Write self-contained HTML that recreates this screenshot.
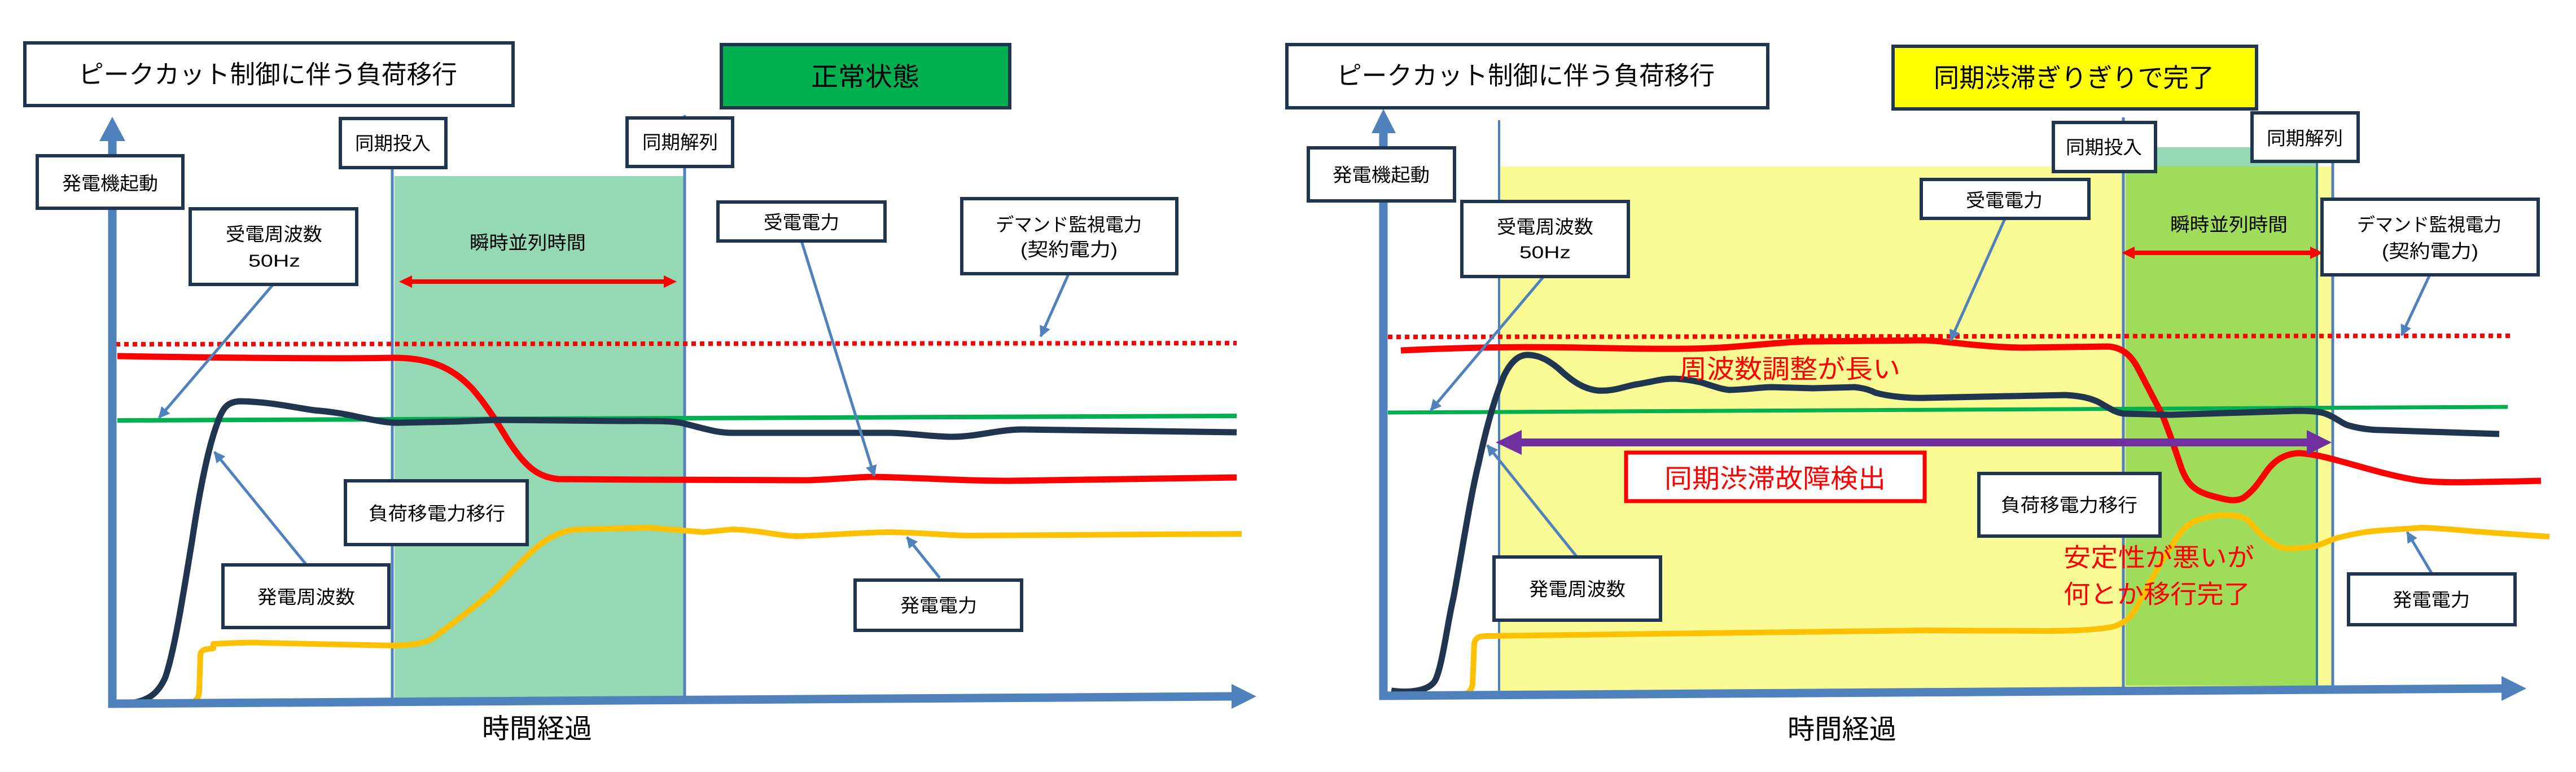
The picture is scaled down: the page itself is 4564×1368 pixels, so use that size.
<!DOCTYPE html>
<html><head><meta charset="utf-8">
<style>
html,body{margin:0;padding:0;background:#fff;}
body{width:4564px;height:1368px;overflow:hidden;}
svg{display:block;}
text{font-family:"Liberation Sans","Noto Sans CJK JP",sans-serif;dominant-baseline:central;fill:#000;}
</style></head>
<body>
<svg width="4564" height="1368" viewBox="0 0 4564 1368" xmlns="http://www.w3.org/2000/svg">
<defs>
<marker id="ah" viewBox="0 0 10 10" refX="9" refY="5" markerWidth="24" markerHeight="20" markerUnits="userSpaceOnUse" orient="auto">
<path d="M0,0 L10,5 L0,10 z" fill="#4f81bd"/>
</marker>
</defs>
<rect width="4564" height="1368" fill="#fff"/>

<!-- ============ LEFT PANEL ============ -->
<!-- green region -->
<rect x="699" y="312" width="512" height="928" fill="#95d8b4"/>
<!-- vertical lines -->
<line x1="695" y1="297" x2="695" y2="1240" stroke="#4f81bd" stroke-width="5"/>
<line x1="1213" y1="204" x2="1213" y2="1240" stroke="#4f81bd" stroke-width="5"/>
<!-- dotted contract line -->
<line x1="205" y1="610" x2="2191" y2="608" stroke="#ff0000" stroke-width="8" stroke-dasharray="8 7"/>
<!-- red double arrow -->
<line x1="726" y1="499" x2="1180" y2="499" stroke="#ff0000" stroke-width="8"/>
<polygon points="707,499 730,488 730,510" fill="#ff0000"/>
<polygon points="1199,499 1176,488 1176,510" fill="#ff0000"/>
<!-- green 50Hz line -->
<line x1="208" y1="745" x2="2191" y2="737" stroke="#00b050" stroke-width="8"/>
<!-- yellow gen power -->
<path d="M224,1247 L323,1247 C345,1247 352,1240 353,1225 L355,1160 C356,1152 362,1150 378,1149 L378,1141 C420,1139 450,1138 462,1139 L697,1144 C730,1143 755,1140 770,1129 C800,1105 850,1070 880,1041 C920,1000 950,965 975,953 C995,942 1010,938 1030,938 L1150,935 L1247,943 L1298,938 C1350,940 1380,950 1415,950 C1480,948 1530,943 1577,943 C1640,944 1680,949 1716,949 L2200,946" fill="none" stroke="#ffc000" stroke-width="10" stroke-linejoin="round"/>
<!-- red received power -->
<path d="M208,631 C400,634 600,636 697,634 C760,634 800,650 836,688 C860,715 880,747 900,780 C930,825 950,845 990,849 L1150,850 L1430,851 C1490,849 1520,845 1547,845 C1650,847 1700,852 1789,852 L2191,846" fill="none" stroke="#ff0000" stroke-width="11" stroke-linejoin="round"/>
<!-- navy gen frequency -->
<path d="M216,1247 C260,1246 280,1230 293,1200 C310,1150 325,1050 340,960 C355,860 370,790 385,750 C395,720 405,712 425,711 C480,712 520,722 557,727 C590,730 610,733 640,740 C670,746 690,750 711,749 L807,747 L880,744 L1100,746 C1150,746 1190,745 1210,750 C1250,760 1270,767 1298,767 L1577,767 C1620,768 1650,774 1687,774 C1730,774 1770,761 1811,761 L2191,766" fill="none" stroke="#1f3550" stroke-width="11" stroke-linejoin="round"/>
<!-- axes -->
<line x1="199" y1="1254" x2="199" y2="246" stroke="#4f81bd" stroke-width="15"/>
<polygon points="176,250 222,250 199,207" fill="#4f81bd"/>
<line x1="192" y1="1247" x2="2185" y2="1234" stroke="#4f81bd" stroke-width="15"/>
<polygon points="2182,1212 2182,1256 2226,1234" fill="#4f81bd"/>
<!-- connectors -->
<line x1="484" y1="504" x2="282" y2="740" stroke="#4f81bd" stroke-width="5" marker-end="url(#ah)"/>
<line x1="543" y1="1001" x2="380" y2="801" stroke="#4f81bd" stroke-width="5" marker-end="url(#ah)"/>
<line x1="1420" y1="427" x2="1549" y2="843" stroke="#4f81bd" stroke-width="5" marker-end="url(#ah)"/>
<line x1="1893" y1="486" x2="1844" y2="596" stroke="#4f81bd" stroke-width="5" marker-end="url(#ah)"/>
<line x1="1665" y1="1024" x2="1607" y2="952" stroke="#4f81bd" stroke-width="5" marker-end="url(#ah)"/>

<!-- boxes left -->
<g stroke="#1f3550" stroke-width="6" fill="#fff">
<rect x="44" y="76" width="865" height="111"/>
<rect x="1278" y="79" width="511" height="112" fill="#00b050"/>
<rect x="66" y="276" width="258" height="93"/>
<rect x="603" y="210" width="187" height="87"/>
<rect x="1111" y="209" width="187" height="86"/>
<rect x="337" y="370" width="295" height="134"/>
<rect x="1272" y="358" width="296" height="69"/>
<rect x="1704" y="352" width="381" height="133"/>
<rect x="612" y="852" width="322" height="113"/>
<rect x="395" y="1001" width="294" height="111"/>
<rect x="1515" y="1028" width="295" height="89"/>
</g>
<text x="139" y="132" font-size="45" textLength="671" lengthAdjust="spacingAndGlyphs">ピークカット制御に伴う負荷移行</text>
<text x="1437" y="136" font-size="46" textLength="192" lengthAdjust="spacingAndGlyphs">正常状態</text>
<text x="110" y="325" font-size="33" textLength="170" lengthAdjust="spacingAndGlyphs">発電機起動</text>
<text x="629" y="254" font-size="33" textLength="134" lengthAdjust="spacingAndGlyphs">同期投入</text>
<text x="1138" y="252" font-size="33" textLength="134" lengthAdjust="spacingAndGlyphs">同期解列</text>
<text x="400" y="415" font-size="33" textLength="171" lengthAdjust="spacingAndGlyphs">受電周波数</text>
<text x="440" y="462" font-size="31" textLength="92" lengthAdjust="spacingAndGlyphs">50Hz</text>
<text x="832" y="430" font-size="33" textLength="206" lengthAdjust="spacingAndGlyphs">瞬時並列時間</text>
<text x="1353" y="394" font-size="33" textLength="134" lengthAdjust="spacingAndGlyphs">受電電力</text>
<text x="1764" y="398" font-size="33" textLength="259" lengthAdjust="spacingAndGlyphs">デマンド監視電力</text>
<text x="1808" y="442" font-size="33" textLength="172" lengthAdjust="spacingAndGlyphs">(契約電力)</text>
<text x="653" y="910" font-size="33" textLength="242" lengthAdjust="spacingAndGlyphs">負荷移電力移行</text>
<text x="456" y="1058" font-size="33" textLength="173" lengthAdjust="spacingAndGlyphs">発電周波数</text>
<text x="1595" y="1073" font-size="33" textLength="136" lengthAdjust="spacingAndGlyphs">発電電力</text>
<text x="854" y="1292" font-size="48" textLength="195" lengthAdjust="spacingAndGlyphs">時間経過</text>

<!-- ============ RIGHT PANEL ============ -->
<rect x="2658" y="295" width="1473" height="929" fill="#fbfb96"/>
<rect x="3766" y="261" width="339" height="34" fill="#95d8b4"/>
<rect x="3766" y="295" width="339" height="920" fill="#a0dc5c"/>
<line x1="2656" y1="213" x2="2656" y2="1224" stroke="#4f81bd" stroke-width="4"/>
<line x1="3762" y1="208" x2="3762" y2="1222" stroke="#4f81bd" stroke-width="5"/>
<line x1="4105" y1="286" x2="4105" y2="1215" stroke="#31859c" stroke-width="4"/>
<line x1="4133" y1="286" x2="4133" y2="1222" stroke="#4f81bd" stroke-width="5"/>
<!-- dotted -->
<line x1="2459" y1="597" x2="4447" y2="595" stroke="#ff0000" stroke-width="8" stroke-dasharray="8 7"/>
<!-- red double arrow -->
<line x1="3778" y1="448" x2="4097" y2="448" stroke="#ff0000" stroke-width="8"/>
<polygon points="3759,448 3782,437 3782,459" fill="#ff0000"/>
<polygon points="4116,448 4093,437 4093,459" fill="#ff0000"/>
<!-- green line -->
<line x1="2459" y1="731" x2="4443" y2="721" stroke="#00b050" stroke-width="7"/>
<!-- yellow -->
<path d="M2472,1232 L2583,1232 C2600,1232 2607,1225 2609,1212 L2612,1140 C2614,1130 2620,1127 2635,1127 L3410,1117 L3623,1118 C3680,1118 3730,1115 3749,1109 C3770,1100 3778,1090 3786,1075 C3805,1040 3825,1000 3845,972 C3860,945 3875,928 3890,923 C3910,915 3930,912 3949,913 C3970,914 3980,918 3986,925 C3995,935 4005,948 4016,955 C4030,965 4040,972 4053,972 C4075,972 4090,970 4105,967 C4120,962 4130,956 4142,953 C4170,946 4190,942 4217,940 L4291,935 C4330,936 4360,940 4402,943 L4517,951" fill="none" stroke="#ffc000" stroke-width="10" stroke-linejoin="round"/>
<!-- red -->
<path d="M2482,621 C2600,615 2700,614 2800,616 C2900,618 3000,620 3064,615 C3120,611 3170,605 3212,605 L3410,603 C3440,604 3450,607 3459,607 C3500,612 3550,616 3586,616 L3734,614 C3760,615 3775,630 3786,649 C3805,685 3820,715 3831,735 C3845,770 3855,800 3865,830 C3875,855 3885,870 3920,879 C3945,886 3960,890 3975,882 C3995,868 4005,850 4016,835 C4030,815 4050,803 4075,803 C4100,805 4120,810 4142,816 C4180,826 4240,845 4291,852 C4330,856 4360,855 4502,852" fill="none" stroke="#ff0000" stroke-width="11" stroke-linejoin="round"/>
<!-- navy -->
<path d="M2465,1224 C2495,1228 2530,1225 2542,1207 C2555,1185 2565,1100 2575,1060 C2590,980 2605,880 2620,820 C2635,750 2650,700 2665,665 C2680,635 2695,628 2709,629 C2730,630 2745,640 2760,652 C2780,670 2800,688 2830,692 C2860,694 2880,684 2900,681 C2930,676 2945,671 2965,671 C2990,672 3000,675 3012,677 C3035,684 3050,690 3064,691 C3100,690 3120,686 3138,686 L3212,688 L3286,686 C3305,688 3315,692 3323,696 C3345,702 3380,706 3410,705 L3660,700 C3690,702 3705,706 3719,713 C3740,725 3750,732 3764,733 L3845,735 L4068,728 C4090,728 4110,729 4120,733 C4140,740 4150,752 4165,755 C4180,759 4200,762 4217,762 L4365,767 L4428,769" fill="none" stroke="#1f3550" stroke-width="11" stroke-linejoin="round"/>
<!-- purple double arrow -->
<line x1="2690" y1="784" x2="4092" y2="784" stroke="#7030a0" stroke-width="14"/>
<polygon points="2650,784 2696,762 2696,806" fill="#7030a0"/>
<polygon points="4131,784 4087,762 4087,806" fill="#7030a0"/>
<!-- axes -->
<line x1="2451" y1="1240" x2="2451" y2="232" stroke="#4f81bd" stroke-width="15"/>
<polygon points="2430,236 2473,236 2451,193" fill="#4f81bd"/>
<line x1="2444" y1="1233" x2="4435" y2="1220" stroke="#4f81bd" stroke-width="15"/>
<polygon points="4432,1198 4432,1242 4476,1220" fill="#4f81bd"/>
<!-- connectors -->
<line x1="2735" y1="490" x2="2535" y2="727" stroke="#4f81bd" stroke-width="5" marker-end="url(#ah)"/>
<line x1="2794" y1="987" x2="2635" y2="789" stroke="#4f81bd" stroke-width="5" marker-end="url(#ah)"/>
<line x1="3552" y1="388" x2="3456" y2="603" stroke="#4f81bd" stroke-width="5" marker-end="url(#ah)"/>
<line x1="4304" y1="489" x2="4255" y2="594" stroke="#4f81bd" stroke-width="5" marker-end="url(#ah)"/>
<line x1="4309" y1="1017" x2="4265" y2="943" stroke="#4f81bd" stroke-width="5" marker-end="url(#ah)"/>

<!-- boxes right -->
<g stroke="#1f3550" stroke-width="6" fill="#fff">
<rect x="2280" y="79" width="852" height="112"/>
<rect x="3354" y="82" width="644" height="111" fill="#ffff00"/>
<rect x="2318" y="262" width="259" height="94"/>
<rect x="2590" y="357" width="295" height="133"/>
<rect x="3638" y="217" width="181" height="87"/>
<rect x="3990" y="200" width="188" height="86"/>
<rect x="3404" y="318" width="297" height="69"/>
<rect x="4114" y="353" width="383" height="134"/>
<rect x="3506" y="839" width="321" height="111"/>
<rect x="2647" y="987" width="295" height="112"/>
<rect x="4161" y="1017" width="295" height="90"/>
</g>
<rect x="2881" y="802" width="529" height="86" fill="#fff" stroke="#ff0000" stroke-width="7"/>

<text x="2368" y="134" font-size="45" textLength="670" lengthAdjust="spacingAndGlyphs">ピークカット制御に伴う負荷移行</text>
<text x="3426" y="138" font-size="46" textLength="497" lengthAdjust="spacingAndGlyphs">同期渋滞ぎりぎりで完了</text>
<text x="2361" y="310" font-size="33" textLength="172" lengthAdjust="spacingAndGlyphs">発電機起動</text>
<text x="2652" y="402" font-size="33" textLength="171" lengthAdjust="spacingAndGlyphs">受電周波数</text>
<text x="2692" y="447" font-size="31" textLength="91" lengthAdjust="spacingAndGlyphs">50Hz</text>
<text x="3660" y="261" font-size="33" textLength="135" lengthAdjust="spacingAndGlyphs">同期投入</text>
<text x="4016" y="245" font-size="33" textLength="135" lengthAdjust="spacingAndGlyphs">同期解列</text>
<text x="3483" y="355" font-size="33" textLength="136" lengthAdjust="spacingAndGlyphs">受電電力</text>
<text x="3845" y="398" font-size="33" textLength="208" lengthAdjust="spacingAndGlyphs">瞬時並列時間</text>
<text x="4176" y="398" font-size="33" textLength="256" lengthAdjust="spacingAndGlyphs">デマンド監視電力</text>
<text x="4220" y="445" font-size="33" textLength="171" lengthAdjust="spacingAndGlyphs">(契約電力)</text>
<text x="2975" y="654" font-size="46" textLength="392" lengthAdjust="spacingAndGlyphs" fill="#ff0000" style="fill:#ff0000">周波数調整が長い</text>
<text x="2949" y="848" font-size="46" textLength="392" lengthAdjust="spacingAndGlyphs" style="fill:#ff0000">同期渋滞故障検出</text>
<text x="3545" y="895" font-size="33" textLength="242" lengthAdjust="spacingAndGlyphs">負荷移電力移行</text>
<text x="3656" y="988" font-size="45" textLength="338" lengthAdjust="spacingAndGlyphs" style="fill:#ff0000">安定性が悪いが</text>
<text x="3656" y="1053" font-size="45" textLength="331" lengthAdjust="spacingAndGlyphs" style="fill:#ff0000">何とか移行完了</text>
<text x="2709" y="1044" font-size="33" textLength="171" lengthAdjust="spacingAndGlyphs">発電周波数</text>
<text x="4239" y="1063" font-size="33" textLength="137" lengthAdjust="spacingAndGlyphs">発電電力</text>
<text x="3167" y="1293" font-size="48" textLength="193" lengthAdjust="spacingAndGlyphs">時間経過</text>
</svg>
</body></html>
